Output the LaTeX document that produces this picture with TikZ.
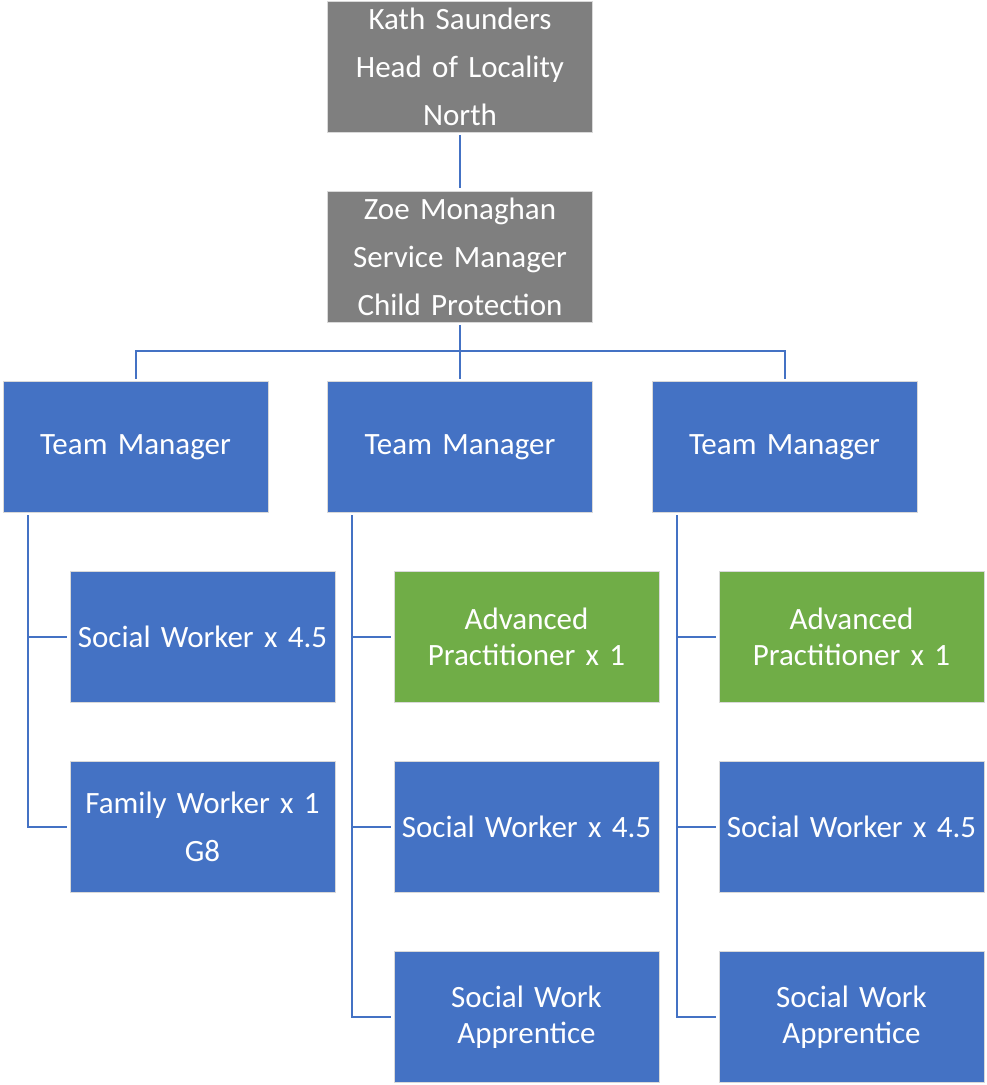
\documentclass[tikz,border=0pt]{standalone}
\usepackage{fontspec}
\setmainfont{Carlito}
\definecolor{oblue}{HTML}{4472C4}
\definecolor{ogray}{HTML}{7F7F7F}
\definecolor{ogreen}{HTML}{70AD47}
\begin{document}
\begin{tikzpicture}[x=1pt,y=1pt,
  box/.style={draw=white!85!black, line width=0.6pt, minimum width=265pt, minimum height=131pt,
    inner sep=2pt, text=white, align=center, text width=260pt},
  gbox/.style={box, fill=ogray, font=\fontsize{31}{48}\selectfont},
  bbox/.style={box, fill=oblue, font=\fontsize{31}{36}\selectfont},
  bboxl/.style={box, fill=oblue, font=\fontsize{31}{48}\selectfont},
  greenbox/.style={box, fill=ogreen, font=\fontsize{31}{36}\selectfont},
  conn/.style={draw=oblue, line width=2pt, shorten <=2.5pt, shorten >=2.5pt}]
\useasboundingbox (0,0) rectangle (987,-1085);
\node[gbox] (top) at (460,-66.5) {Kath Saunders\\Head of Locality\\North};
\node[gbox] (zoe) at (460,-256.5) {Zoe Monaghan\\Service Manager\\Child Protection};
\node[bbox] (tm1) at (135.5,-447) {Team Manager};
\node[bbox] (tm2) at (460,-447) {Team Manager};
\node[bbox] (tm3) at (784.5,-447) {Team Manager};
\node[bbox] (c11) at (202.5,-637) {Social Worker x 4.5};
\node[bboxl] (c12) at (202.5,-827) {Family Worker x 1\\G8};
\node[greenbox] (c21) at (526.5,-637) {Advanced\\Practitioner x 1};
\node[bbox] (c22) at (526.5,-827) {Social Worker x 4.5};
\node[bbox] (c23) at (526.5,-1017) {Social Work\\Apprentice};
\node[greenbox] (c31) at (851.5,-637) {Advanced\\Practitioner x 1};
\node[bbox] (c32) at (851.5,-827) {Social Worker x 4.5};
\node[bbox] (c33) at (851.5,-1017) {Social Work\\Apprentice};
\coordinate (bus) at (460,-351);
\draw[conn] (top) -- (zoe);
\draw[conn] (zoe) -- (tm2);
\draw[conn] (tm1.north) |- (bus) -| (tm3.north);
\draw[conn] ([xshift=25pt]tm1.south west) |- (c11.west);
\draw[conn] ([xshift=25pt]tm1.south west) |- (c12.west);
\draw[conn] ([xshift=25pt]tm2.south west) |- (c21.west);
\draw[conn] ([xshift=25pt]tm2.south west) |- (c22.west);
\draw[conn] ([xshift=25pt]tm2.south west) |- (c23.west);
\draw[conn] ([xshift=25pt]tm3.south west) |- (c31.west);
\draw[conn] ([xshift=25pt]tm3.south west) |- (c32.west);
\draw[conn] ([xshift=25pt]tm3.south west) |- (c33.west);
\end{tikzpicture}
\end{document}
